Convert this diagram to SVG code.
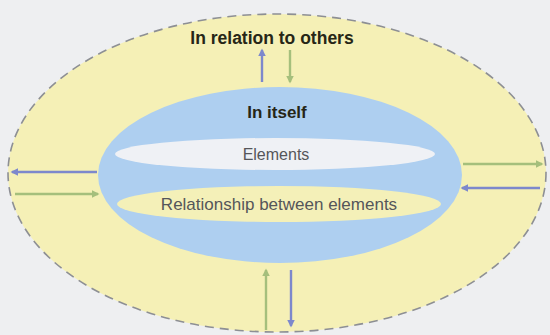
<svg xmlns="http://www.w3.org/2000/svg" width="550" height="335" viewBox="0 0 550 335">
  <defs>
    <marker id="headBlue" viewBox="0 0 10 10" refX="8" refY="5" markerWidth="3.2" markerHeight="3.2" orient="auto">
      <path d="M0,0 L10,5 L0,10 z" fill="#7d88cc"/>
    </marker>
    <marker id="headGreen" viewBox="0 0 10 10" refX="8" refY="5" markerWidth="3.2" markerHeight="3.2" orient="auto">
      <path d="M0,0 L10,5 L0,10 z" fill="#a5bf7c"/>
    </marker>
    <style>
      .lbl { font-family: "Liberation Sans", Arial, sans-serif; text-anchor: middle; }
      .bold { font-weight: bold; fill: #262616; }
      .plain { fill: #55565a; }
      .blue { stroke: #7d88cc; stroke-width: 2.4; fill: none; marker-end: url(#headBlue); }
      .green { stroke: #a5bf7c; stroke-width: 2.4; fill: none; marker-end: url(#headGreen); }
    </style>
  </defs>

  <rect width="550" height="335" fill="#eeeff1"/>

  <!-- outer context -->
  <g id="others">
    <ellipse cx="277" cy="173" rx="269" ry="159" fill="#f5f0b6" stroke="#8d8f94" stroke-width="1.6" stroke-dasharray="9,6"/>
    <text class="lbl bold" x="272" y="44" font-size="17.5">In relation to others</text>
  </g>

  <!-- the system itself -->
  <g id="itself">
    <ellipse cx="280" cy="175" rx="182" ry="88" fill="#aecff0"/>
    <text class="lbl bold" x="277" y="118" font-size="17">In itself</text>
  </g>

  <g id="elements">
    <ellipse cx="275" cy="154" rx="160" ry="16" fill="#eff1f5"/>
    <text class="lbl plain" x="276" y="160" font-size="16">Elements</text>
  </g>

  <g id="relationship">
    <ellipse cx="279" cy="204" rx="162" ry="18" fill="#f4f0b8"/>
    <text class="lbl plain" x="279" y="210" font-size="17">Relationship between elements</text>
  </g>

  <!-- exchanges with the surroundings -->
  <g id="connectors">
    <line class="blue" x1="262" y1="82" x2="262" y2="50"/>
    <line class="green" x1="290" y1="50" x2="290" y2="82"/>
    <line class="blue" x1="97" y1="172" x2="12" y2="172"/>
    <line class="green" x1="15" y1="194" x2="98" y2="194"/>
    <line class="green" x1="463" y1="164" x2="542" y2="164"/>
    <line class="blue" x1="540" y1="188" x2="462" y2="188"/>
    <line class="green" x1="266" y1="330" x2="266" y2="270"/>
    <line class="blue" x1="291" y1="270" x2="291" y2="326"/>
  </g>
</svg>
